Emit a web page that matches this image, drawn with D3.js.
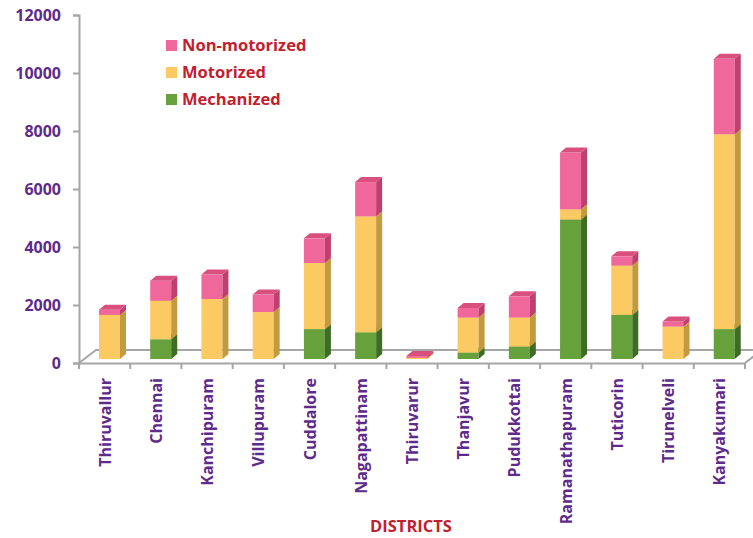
<!DOCTYPE html>
<html>
<head>
<meta charset="utf-8">
<script src="https://cdn.jsdelivr.net/npm/d3@7"></script>
<style>
  body { margin: 0; background: #fff; }
  text { font-family: "Open Sans", sans-serif; font-weight: bold; }
</style>
</head>
<body>
<script>
var districts = ['Thiruvallur','Chennai','Kanchipuram','Villupuram','Cuddalore','Nagapattinam','Thiruvarur','Thanjavur','Pudukkottai','Ramanathapuram','Tuticorin','Tirunelveli','Kanyakumari'];
var mechanized   = [0, 680, 0, 0, 1030, 920, 0, 220, 430, 4810, 1520, 0, 1030];
var motorized    = [1520, 1330, 2070, 1620, 2280, 4000, 40, 1210, 1000, 350, 1700, 1120, 6720];
var nonMotorized = [180, 690, 840, 600, 850, 1180, 60, 330, 730, 1960, 320, 170, 2600];
var yTicks = [0, 2000, 4000, 6000, 8000, 10000, 12000];
var seriesNames = ['Mechanized', 'Motorized', 'Non-motorized'];

var width = 753, height = 538;
var purple = '#5E2B8C', red = '#C3202E', grey = '#A6A6A6';
var colors = {
  'Mechanized':    {front: '#67A13B', side: '#3F6C25', top: '#518A2F'},
  'Motorized':     {front: '#FCCA63', side: '#C39A40', top: '#E9B752'},
  'Non-motorized': {front: '#F0689B', side: '#BF3F6E', top: '#D9507F'}
};
var dx = 6, dy = 5;   // bar depth
var fx = 17, fy = 13; // floor depth

var svg = d3.select('body').append('svg').attr('width', width).attr('height', height);

var x = d3.scaleBand().domain(districts).range([79, 745]).padding(0);
var y = d3.scaleLinear().domain([0, 12000]).range([363, 15]);
var yBar = d3.scaleLinear().domain([0, 12000]).range([359, 11]);

var rows = districts.map(function(d, i) {
  return {district: d, 'Mechanized': mechanized[i], 'Motorized': motorized[i], 'Non-motorized': nonMotorized[i]};
});
var stacked = d3.stack().keys(seriesNames)(rows);

// floor
svg.append('path')
  .attr('d', 'M79,363 L' + (79 + fx) + ',' + (363 - fy) + ' L' + (745 + fx) + ',' + (363 - fy) + ' M745,363 L' + (745 + fx) + ',' + (363 - fy))
  .attr('fill', 'none').attr('stroke', grey).attr('stroke-width', 2);

// y axis
var yAxis = svg.append('g').attr('transform', 'translate(79,0)')
  .call(d3.axisLeft(y).tickValues(yTicks).tickFormat(d3.format('d')).tickSize(6).tickPadding(12));
yAxis.select('.domain').attr('stroke', grey).attr('stroke-width', 2);
yAxis.selectAll('.tick line').attr('stroke', grey).attr('stroke-width', 2);
yAxis.selectAll('text').attr('fill', purple).style('font-size', '16px').style('font-family', '"Open Sans", sans-serif').style('font-weight', 'bold');

// x axis
var xAxis = svg.append('g').attr('transform', 'translate(0,363)')
  .call(d3.axisBottom(x).tickSize(0).tickFormat(''));
xAxis.select('.domain').attr('stroke', grey).attr('stroke-width', 2);
xAxis.selectAll('.sep').data(districts.concat(['end'])).enter().append('line')
  .attr('x1', function(d, i) { return 79 + i * x.bandwidth(); })
  .attr('x2', function(d, i) { return 79 + i * x.bandwidth(); })
  .attr('y1', 0).attr('y2', 6)
  .attr('stroke', grey).attr('stroke-width', 2);

// bars
var bw = x.bandwidth() * 0.41;
districts.forEach(function(d, i) {
  var x0 = x(d) + x.bandwidth() * 0.39;
  stacked.forEach(function(s) {
    var v0 = s[i][0], v1 = s[i][1];
    if (v1 - v0 <= 0) return;
    var c = colors[s.key];
    var yt = yBar(v1), yb = yBar(v0);
    var g = svg.append('g');
    g.append('rect').attr('x', x0).attr('y', yt).attr('width', bw).attr('height', yb - yt).attr('fill', c.front);
    g.append('path')
      .attr('d', 'M' + (x0 + bw) + ',' + yb + ' L' + (x0 + bw + dx) + ',' + (yb - dy) + ' L' + (x0 + bw + dx) + ',' + (yt - dy) + ' L' + (x0 + bw) + ',' + yt + 'Z')
      .attr('fill', c.side);
    g.append('path')
      .attr('d', 'M' + x0 + ',' + yt + ' L' + (x0 + bw) + ',' + yt + ' L' + (x0 + bw + dx) + ',' + (yt - dy) + ' L' + (x0 + dx) + ',' + (yt - dy) + 'Z')
      .attr('fill', c.top);
  });
});

// category labels
svg.selectAll('.cat').data(districts).enter().append('text')
  .attr('transform', function(d) { return 'translate(' + (x(d) + x.bandwidth() / 2 + 6) + ',378) rotate(-90)'; })
  .attr('text-anchor', 'end')
  .attr('fill', purple)
  .style('font-size', '16px')
  .text(function(d) { return d; });

svg.append('text').attr('x', 411).attr('y', 532).attr('text-anchor', 'middle')
  .attr('fill', red).style('font-size', '16.5px').text('DISTRICTS');

// legend
var legendOrder = ['Non-motorized', 'Motorized', 'Mechanized'];
var legend = svg.selectAll('.leg').data(legendOrder).enter().append('g')
  .attr('transform', function(d, i) { return 'translate(166,' + (40 + i * 27) + ')'; });
legend.append('rect').attr('width', 11).attr('height', 11).attr('fill', function(d) { return colors[d].front; });
legend.append('text').attr('x', 16).attr('y', 11).attr('fill', red).style('font-size', '16.5px').text(function(d) { return d; });
</script>
</body>
</html>
